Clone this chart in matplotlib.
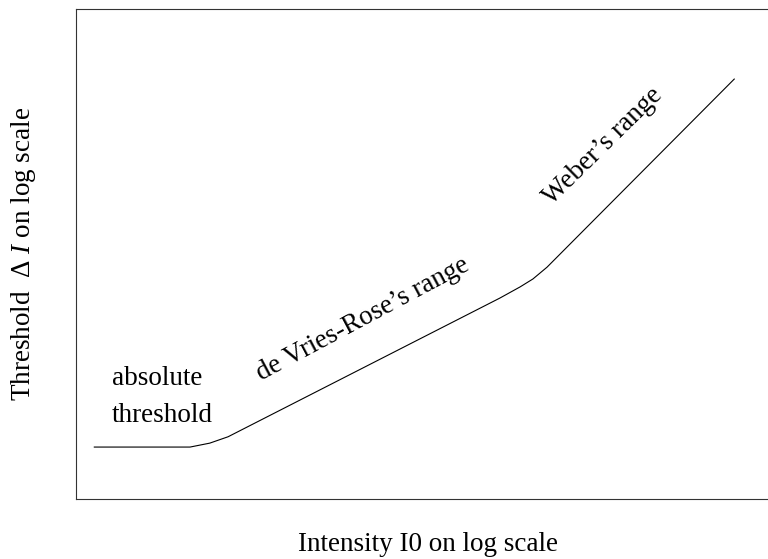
import matplotlib
matplotlib.use("Agg")
import matplotlib.pyplot as plt

# -- DADOS --
# curva do limiar (unidades log arbitrarias)
intensity_log = [0.26, 1.62, 1.90, 2.16, 6.02, 6.31, 6.49, 6.69, 9.35]
threshold_log = [1.06, 1.06, 1.14, 1.27, 4.10, 4.33, 4.49, 4.73, 8.57]

region_labels = ["absolute", "threshold", "de Vries-Rose\u2019s range", "Weber\u2019s range"]
x_label = "Intensity I0 on log scale"
y_label = "Threshold  \u0394 $I$ on log scale"

# -- ESTILO --
plt.rcParams['font.family'] = ['Liberation Serif', 'DejaVu Serif']
plt.rcParams['mathtext.fontset'] = 'custom'
plt.rcParams['mathtext.rm'] = 'Liberation Serif'
plt.rcParams['mathtext.it'] = 'Liberation Serif:italic'
fs = 19.5

fig = plt.figure(figsize=(7.68, 5.59), dpi=100)
ax = fig.add_axes([76/768, 1 - 499/559, 704/768, 490/559])

ax.plot(intensity_log, threshold_log, color='black', lw=0.8)
ax.set_xlim(0, 10); ax.set_ylim(0, 10)
ax.set_xticks([]); ax.set_yticks([])
for s in ax.spines.values():
    s.set_linewidth(0.8); s.set_color('#333333')

# rotulos das regioes
ax.text(0.51, 2.33, region_labels[0], fontsize=fs, ha='left', va='baseline')
ax.text(0.51, 1.57, region_labels[1], fontsize=fs, ha='left', va='baseline')
ax.text(4.12, 3.55, region_labels[2], fontsize=fs, rotation=28,
        rotation_mode='anchor', ha='center', va='baseline')
ax.text(7.55, 7.10, region_labels[3], fontsize=fs, rotation=44.5,
        rotation_mode='anchor', ha='center', va='baseline')

ax.set_xlabel(x_label, fontsize=fs, labelpad=24)
ax.set_ylabel(y_label, fontsize=fs, labelpad=27)

plt.savefig("out.png", dpi=100)
